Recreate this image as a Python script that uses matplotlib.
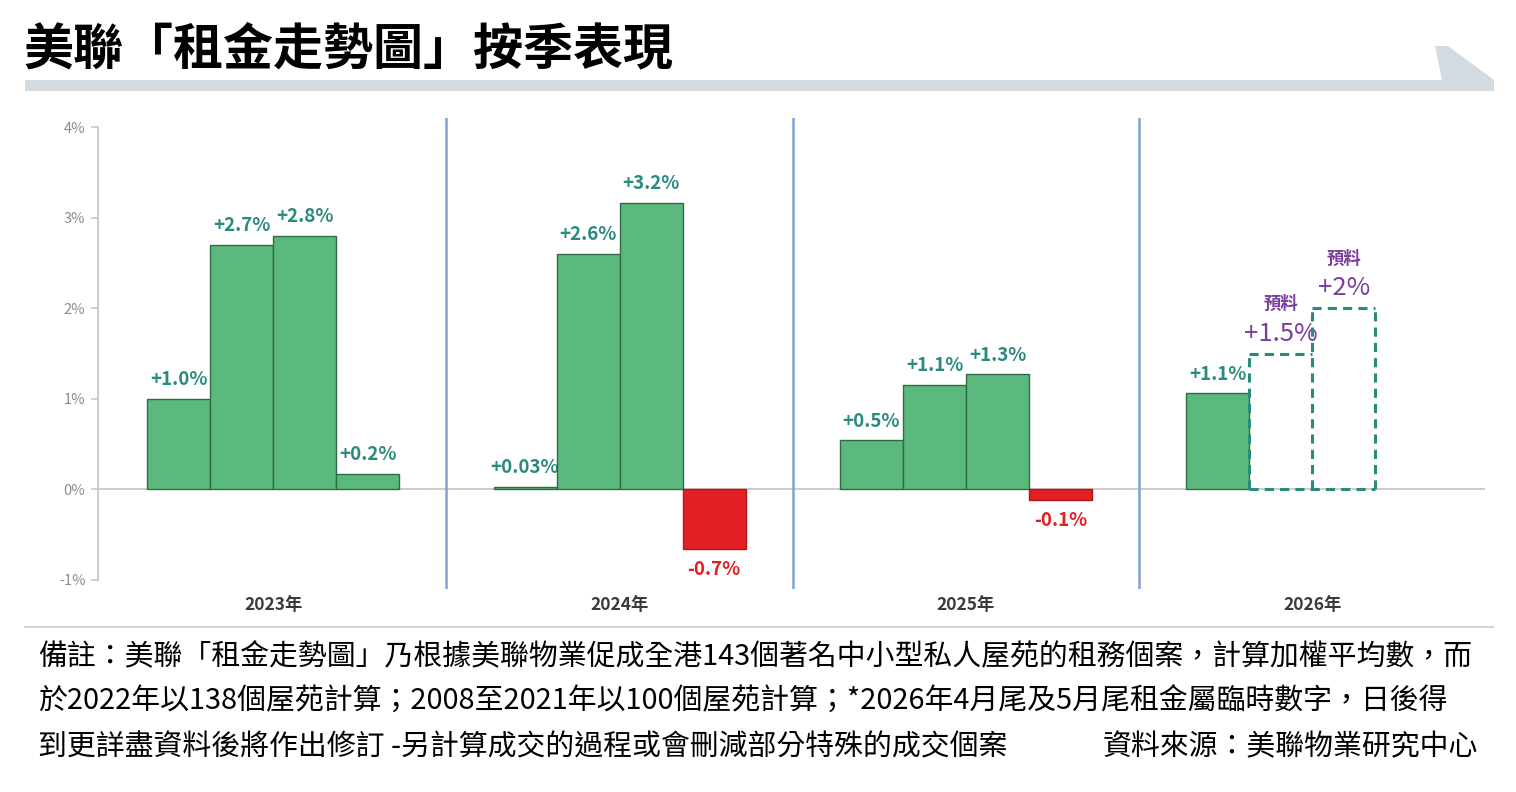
import numpy as np
import matplotlib.pyplot as plt
from matplotlib.patches import Polygon

plt.rcParams['font.family'] = ['Noto Sans CJK TC', 'DejaVu Sans']

# 數據
years = ['2023年', '2024年', '2025年', '2026年']
actual_vals = [
    [1.0, 2.7, 2.8, 0.17],
    [0.03, 2.6, 3.16, -0.66],
    [0.54, 1.15, 1.27, -0.12],
    [1.06],
]
actual_labels = [
    ['+1.0%', '+2.7%', '+2.8%', '+0.2%'],
    ['+0.03%', '+2.6%', '+3.2%', '-0.7%'],
    ['+0.5%', '+1.1%', '+1.3%', '-0.1%'],
    ['+1.1%'],
]
forecast_vals = [1.5, 2.0]
forecast_labels = ['+1.5%', '+2%']
forecast_tag = '預料'
y_ticks = [-1, 0, 1, 2, 3, 4]

title = '美聯「租金走勢圖」按季表現'
note_lines = [
    '備註：美聯「租金走勢圖」乃根據美聯物業促成全港143個著名中小型私人屋苑的租務個案，計算加權平均數，而',
    '於2022年以138個屋苑計算；2008至2021年以100個屋苑計算；*2026年4月尾及5月尾租金屬臨時數字，日後得',
    '到更詳盡資料後將作出修訂 -另計算成交的過程或會刪減部分特殊的成交個案',
]
source = '資料來源：美聯物業研究中心'

GREEN = '#5CB97E'
GREEN_EDGE = '#2F6B45'
RED = '#E31E24'
TEAL = '#2B8A80'
PURPLE = '#7A3E9D'
GREY = '#C8C8C8'

W, H = 1516, 792
fig = plt.figure(figsize=(W / 100, H / 100), dpi=100)

# 標題及裝飾條
fig.text(24 / W, 1 - 50 / H, title, fontsize=36, fontweight='bold', va='center', ha='left')
banner = [(25, 80), (1442, 80), (1435, 46), (1448, 46), (1494, 80), (1494, 91), (25, 91)]
fig.patches.append(Polygon([(x / W, 1 - y / H) for x, y in banner], closed=True,
                           transform=fig.transFigure, facecolor='#D3DAE0', edgecolor='none'))

ax = fig.add_axes([98 / W, 1 - 589 / H, (1485 - 98) / W, (589 - 118) / H])

step = 5.5
for g, (vals, labs) in enumerate(zip(actual_vals, actual_labels)):
    xs = g * step + np.arange(len(vals))
    for x, v, lab in zip(xs, vals, labs):
        neg = v < 0
        ax.bar(x, v, width=1, color=RED if neg else GREEN,
               edgecolor='#B0181C' if neg else GREEN_EDGE, linewidth=1, zorder=3)
        ax.annotate(lab, (x, v), xytext=(0, -8 if neg else 7), textcoords='offset points',
                    ha='center', va='top' if neg else 'bottom', fontsize=13.5,
                    fontweight='bold', color=RED if neg else TEAL)

# 預料 (虛線框)
fx = 3 * step + 1 + np.arange(len(forecast_vals))
fv = np.array(forecast_vals)
dash = dict(color=TEAL, linewidth=2.2, linestyles=(0, (3, 2)), zorder=4)
edge_x = np.append(fx - 0.5, fx[-1] + 0.5)
edge_h = np.maximum(np.append(fv, 0), np.insert(fv, 0, 0))
ax.vlines(edge_x, 0, edge_h, **dash)
ax.hlines(fv, fx - 0.5, fx + 0.5, **dash)
ax.hlines(0, fx[0] - 0.5, fx[-1] + 0.5, **dash)
for x, v, lab in zip(fx, forecast_vals, forecast_labels):
    ax.annotate(lab, (x, v), xytext=(0, 5), textcoords='offset points', ha='center',
                va='bottom', fontsize=18.5, fontweight='medium', color=PURPLE)
    ax.annotate(forecast_tag, (x, v), xytext=(0, 29), textcoords='offset points', ha='center',
                va='bottom', fontsize=12.5, fontweight='bold', color=PURPLE)

for g in range(1, len(years)):
    ax.axvline(g * step - 1.25, color='#7FA3CC', linewidth=1.8, zorder=2)
ax.axhline(0, color=GREY, linewidth=1.3, zorder=1)

ax.set_xlim(-1.28, 20.74)
ax.set_ylim(-1.1, 4.1)
ax.set_yticks(y_ticks)
ax.set_yticklabels([f'{t}%' for t in y_ticks], color='#8C8C8C', fontsize=10.5)
ax.tick_params(axis='y', color=GREY, length=5, width=1.2, pad=4)
ax.set_xticks([g * step + 1.5 for g in range(len(years))])
ax.set_xticklabels(years, fontsize=12.5, fontweight='bold', color='#3A3A3A')
ax.tick_params(axis='x', length=0, pad=5)
for s in ['top', 'right', 'bottom']:
    ax.spines[s].set_visible(False)
ax.spines['left'].set_color(GREY)
ax.spines['left'].set_linewidth(1.3)
ax.spines['left'].set_bounds(-1, 4)

# 備註
fig.add_artist(plt.Line2D([25 / W, 1493 / W], [1 - 627 / H] * 2, color='#D0D6DC',
                          linewidth=1.5, transform=fig.transFigure))
for i, line in enumerate(note_lines):
    fig.text(38 / W, 1 - (657 + 45 * i) / H, line, fontsize=20.8, va='center', ha='left',
             style='italic')
fig.text(1478 / W, 1 - 747 / H, source, fontsize=20.8, va='center', ha='right', style='italic')

fig.savefig('out.png', dpi=100)
